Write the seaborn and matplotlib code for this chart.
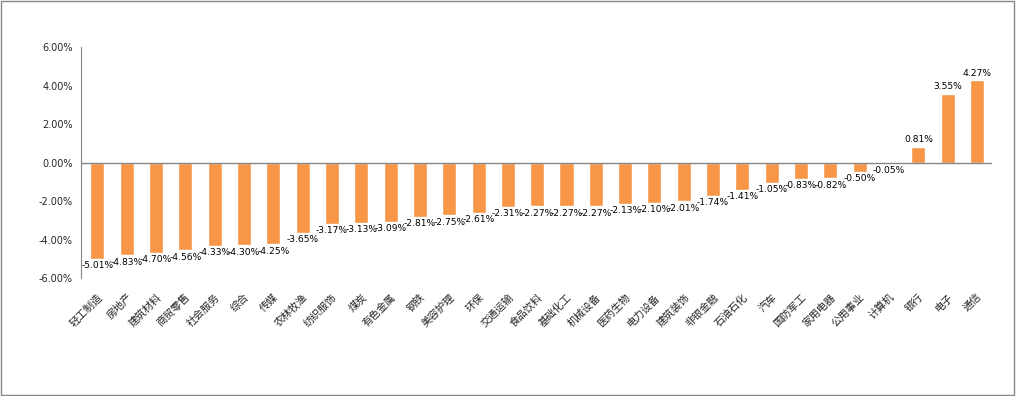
import matplotlib
matplotlib.use("Agg")
import matplotlib.pyplot as plt
import seaborn as sns
import pandas as pd
from matplotlib.patches import Rectangle
from matplotlib.ticker import FuncFormatter

# industry names and weekly returns (%)
industries = ["轻工制造", "房地产", "建筑材料", "商贸零售", "社会服务", "综合", "传媒",
              "农林牧渔", "纺织服饰", "煤炭", "有色金属", "钢铁", "美容护理", "环保",
              "交通运输", "食品饮料", "基础化工", "机械设备", "医药生物", "电力设备",
              "建筑装饰", "非银金融", "石油石化", "汽车", "国防军工", "家用电器",
              "公用事业", "计算机", "银行", "电子", "通信"]
returns = [-5.01, -4.83, -4.70, -4.56, -4.33, -4.30, -4.25, -3.65, -3.17, -3.13,
           -3.09, -2.81, -2.75, -2.61, -2.31, -2.27, -2.27, -2.27, -2.13, -2.10,
           -2.01, -1.74, -1.41, -1.05, -0.83, -0.82, -0.50, -0.05, 0.81, 3.55, 4.27]
yticks = [-6, -4, -2, 0, 2, 4, 6]

df = pd.DataFrame({"industry": industries, "ret": returns})

sns.set_style("white")
plt.rcParams["font.family"] = ["Noto Sans CJK SC", "DejaVu Sans"]
plt.rcParams["axes.unicode_minus"] = False

fig = plt.figure(figsize=(10.16, 3.96), dpi=100)
ax = fig.add_axes([0.08, 0.298, 0.896, 0.583])

sns.barplot(data=df, x="industry", y="ret", color="#F79646", width=0.48,
            saturation=1, ax=ax)

# value labels
for i, v in enumerate(returns):
    off = 0.15 if v >= 0 else -0.12
    ax.text(i, v + off, f"{v:.2f}%", ha="center",
            va="bottom" if v >= 0 else "top", fontsize=6.6,
            family=["DejaVu Sans"], color="#000000")

ax.set_ylim(-6, 6)
ax.set_xlim(-0.55, 30.5)
ax.set_yticks(yticks)
ax.yaxis.set_major_formatter(FuncFormatter(lambda y, _: f"{y:.2f}%"))
ax.tick_params(axis="y", labelsize=7, length=0, pad=6)
for lab in ax.get_yticklabels():
    lab.set_family(["DejaVu Sans"])
ax.set_xticks(range(len(industries)))
ax.set_xticklabels(industries, rotation=45, ha="right", rotation_mode="anchor",
                   fontsize=7.5)
ax.tick_params(axis="x", length=0, pad=10)
ax.set_xlabel("")
ax.set_ylabel("")

for s in ["top", "right", "bottom"]:
    ax.spines[s].set_visible(False)
ax.spines["left"].set_color("#868686")
ax.axhline(0, color="#868686", linewidth=1)

# chart border
fig.patches.append(Rectangle((0.001, 0.003), 0.997, 0.995, transform=fig.transFigure,
                             fill=False, edgecolor="#868686", linewidth=1))

fig.savefig("out.png", dpi=100)
